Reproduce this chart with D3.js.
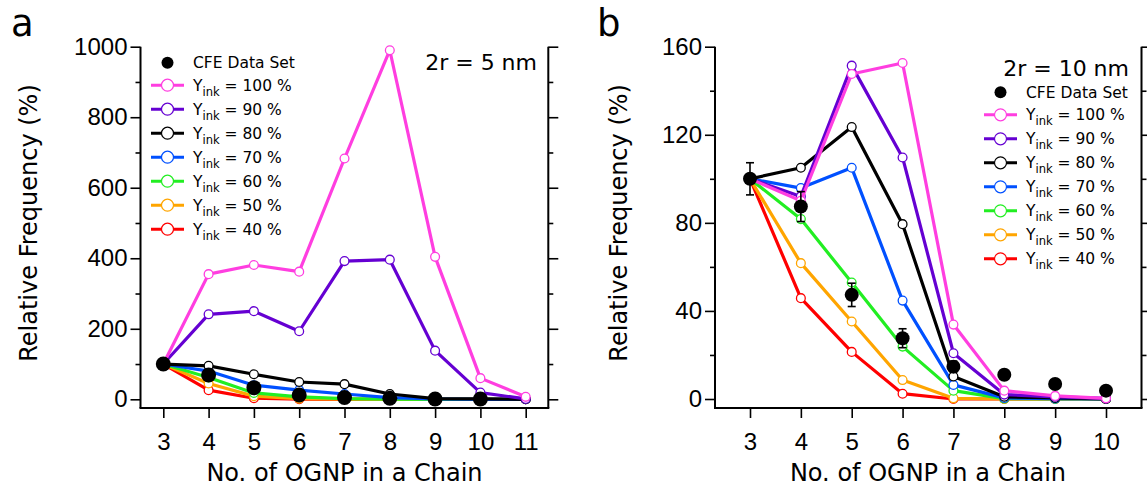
<!DOCTYPE html>
<html>
<head>
<meta charset="utf-8">
<script src="https://cdn.jsdelivr.net/npm/d3@7"></script>
<style>
  html, body { margin: 0; padding: 0; background: #fff; }
  svg { display: block; font-family: "DejaVu Sans", "Liberation Sans", sans-serif; }
</style>
</head>
<body>
<svg id="chart" width="1147" height="486"></svg>
<script>
// ---- Data ------------------------------------------------------------
// Chain length (number of OGNP per chain)
const chainA = [3, 4, 5, 6, 7, 8, 9, 10, 11];
const chainB = [3, 4, 5, 6, 7, 8, 9, 10];

// Ink yield levels and their colours
const yinkLevels = ["100", "90", "80", "70", "60", "50", "40"];
const yinkColors = ["#ff3ee0", "#6500d2", "#000000", "#0050ff", "#22ee22", "#ffa500", "#ff0000"];

// Panel a: 2r = 5 nm, simulated relative frequency (%)
const simA100 = [100, 355, 381, 362, 683, 990, 404, 60, 7];
const simA90  = [100, 241, 250, 193, 392, 396, 138, 19, 1];
const simA80  = [100, 95, 71, 49, 43, 15, 2, 1, 0];
const simA70  = [100, 80, 40, 26, 15, 5, 1, 0, 0];
const simA60  = [100, 62, 18, 7, 2, 0.5, 0, 0, 0];
const simA50  = [100, 45, 9, 2, 0.5, 0, 0, 0, 0];
const simA40  = [100, 26, 3, 0.5, 0, 0, 0, 0, 0];
const cfeA    = [100, 69, 33, 12, 5, 3, 1, 1];

// Panel b: 2r = 10 nm, simulated relative frequency (%)
const simB100 = [100, 90, 147.6, 152.6, 33.8, 3.8, 1.4, 0.3];
const simB90  = [100, 92, 151.4, 109.7, 20.8, 2, 1, 0.3];
const simB80  = [100, 105, 123.5, 79.4, 10.2, 1, 0.5, 0];
const simB70  = [100, 95.8, 105, 44.7, 6.4, 0.5, 0.2, 0];
const simB60  = [100, 81.7, 52.9, 23.8, 3.8, 0.2, 0, 0];
const simB50  = [100, 61.7, 35.2, 8.6, 0.3, 0, 0, 0];
const simB40  = [100, 45.8, 21.4, 2.4, 0, 0, 0, 0];
const cfeB    = [100, 87.4, 47.3, 27.6, 14.7, 11, 6.8, 3.8];
const cfeBErr = [7.3, 6.8, 5.3, 4.3, 2.5, 0, 0, 0];

// Axis ticks
const yTicksA = [0, 200, 400, 600, 800, 1000];
const yMinorA = [100, 300, 500, 700, 900];
const yTicksB = [0, 40, 80, 120, 160];
const yMinorB = [20, 60, 100, 140];

// ---- Drawing ---------------------------------------------------------
const svg = d3.select("#chart");

function drawPanel(cfg) {
  const g = svg.append("g");
  const x = d3.scaleLinear().domain(cfg.xDomain).range(cfg.xRange);
  const y = d3.scaleLinear().domain(cfg.yDomain).range(cfg.yRange);

  // axis frame lines (left, right, bottom)
  const frame = g.append("g").attr("stroke", "#000").attr("stroke-width", 2).attr("fill", "none");
  frame.append("line").attr("x1", cfg.left).attr("x2", cfg.left).attr("y1", cfg.yRange[1]).attr("y2", cfg.bottom);
  frame.append("line").attr("x1", cfg.right).attr("x2", cfg.right).attr("y1", cfg.yRange[1]).attr("y2", cfg.bottom);
  frame.append("line").attr("x1", cfg.left - 1).attr("x2", cfg.right + 1).attr("y1", cfg.bottom).attr("y2", cfg.bottom);

  const styleAxis = sel => {
    sel.select(".domain").remove();
    sel.selectAll(".tick line").attr("stroke", "#000").attr("stroke-width", 1.6);
    sel.selectAll("text").attr("fill", "#000").style("font-size", "24px");
  };

  // left axis with labels
  g.append("g").attr("transform", `translate(${cfg.left},0)`)
    .call(d3.axisLeft(y).tickValues(cfg.yTicks).tickSize(10).tickPadding(3).tickFormat(d3.format("d")))
    .call(styleAxis);
  g.append("g").attr("transform", `translate(${cfg.left},0)`)
    .call(d3.axisLeft(y).tickValues(cfg.yMinor).tickSize(5).tickFormat(""))
    .call(styleAxis);
  // right axis, ticks only
  g.append("g").attr("transform", `translate(${cfg.right},0)`)
    .call(d3.axisRight(y).tickValues(cfg.yTicks).tickSize(10).tickFormat(""))
    .call(styleAxis);
  g.append("g").attr("transform", `translate(${cfg.right},0)`)
    .call(d3.axisRight(y).tickValues(cfg.yMinor).tickSize(5).tickFormat(""))
    .call(styleAxis);
  // bottom axis
  g.append("g").attr("transform", `translate(0,${cfg.bottom})`)
    .call(d3.axisBottom(x).tickValues(cfg.chain).tickSize(10).tickPadding(15).tickFormat(d3.format("d")))
    .call(styleAxis);

  // axis titles
  g.append("text")
    .attr("x", (cfg.xRange[0] + cfg.xRange[1]) / 2).attr("y", 481)
    .attr("text-anchor", "middle").style("font-size", "24px")
    .text("No. of OGNP in a Chain");
  g.append("text")
    .attr("transform", `translate(${cfg.yTitleX},${(cfg.yRange[0] + cfg.yRange[1]) / 2}) rotate(-90)`)
    .attr("text-anchor", "middle").style("font-size", "24px")
    .text("Relative Frequency (%)");
  // panel letter
  g.append("text").attr("x", cfg.letterX).attr("y", 36).style("font-size", "37px").text(cfg.letter);
  // size annotation
  g.append("text").attr("x", cfg.sizeX).attr("y", cfg.sizeY).attr("text-anchor", "end")
    .style("font-size", "22px").text(cfg.sizeLabel);

  // simulated series, lowest yield first
  const line = d3.line().x((d, i) => x(cfg.chain[i])).y(d => y(d));
  for (let k = cfg.series.length - 1; k >= 0; k--) {
    const vals = cfg.series[k];
    const col = yinkColors[k];
    g.append("path").datum(vals)
      .attr("d", line).attr("fill", "none").attr("stroke", col)
      .attr("stroke-width", 3.2).attr("stroke-linejoin", "round");
    g.append("g").selectAll("circle").data(vals).join("circle")
      .attr("cx", (d, i) => x(cfg.chain[i])).attr("cy", d => y(d)).attr("r", 4.4)
      .attr("fill", "#fff").attr("stroke", col).attr("stroke-width", 1.3);
  }

  // experimental data: error bars then filled markers
  if (cfg.cfeErr) {
    const eb = g.append("g").attr("stroke", "#000").attr("stroke-width", 1.6);
    cfg.cfe.forEach((v, i) => {
      const e = cfg.cfeErr[i];
      if (!e) return;
      const cx = x(cfg.chain[i]);
      eb.append("line").attr("x1", cx).attr("x2", cx).attr("y1", y(v - e)).attr("y2", y(v + e));
      eb.append("line").attr("x1", cx - 4).attr("x2", cx + 4).attr("y1", y(v - e)).attr("y2", y(v - e));
      eb.append("line").attr("x1", cx - 4).attr("x2", cx + 4).attr("y1", y(v + e)).attr("y2", y(v + e));
    });
  }
  g.append("g").selectAll("circle").data(cfg.cfe).join("circle")
    .attr("cx", (d, i) => x(cfg.chain[i])).attr("cy", d => y(d)).attr("r", cfg.dotR).attr("fill", "#000");

  // legend
  const lg = g.append("g");
  const rowH = 24;
  lg.append("circle").attr("cx", cfg.legX + 16.5).attr("cy", cfg.legY).attr("r", 6).attr("fill", "#000");
  lg.append("text").attr("x", cfg.legX + 42).attr("y", cfg.legY + 5.5).style("font-size", "15.5px").text("CFE Data Set");
  yinkLevels.forEach((lvl, k) => {
    const cy = cfg.legY + 22.5 + k * rowH;
    lg.append("line").attr("x1", cfg.legX).attr("x2", cfg.legX + 33).attr("y1", cy).attr("y2", cy)
      .attr("stroke", yinkColors[k]).attr("stroke-width", 3);
    lg.append("circle").attr("cx", cfg.legX + 16.5).attr("cy", cy).attr("r", 6)
      .attr("fill", "#fff").attr("stroke", yinkColors[k]).attr("stroke-width", 1.2);
    const t = lg.append("text").attr("x", cfg.legX + 42).attr("y", cy + 5.5).style("font-size", "15.5px");
    t.append("tspan").text("Y");
    t.append("tspan").attr("dy", 5).style("font-size", "11.5px").text("ink");
    t.append("tspan").attr("dy", -5).text(` = ${lvl} %`);
  });
}

drawPanel({
  chain: chainA, xDomain: [3, 11], xRange: [163.3, 525.7],
  yDomain: [0, 1000], yRange: [399.3, 46.7],
  left: 140.5, right: 548.3, bottom: 408,
  yTicks: yTicksA, yMinor: yMinorA,
  series: [simA100, simA90, simA80, simA70, simA60, simA50, simA40],
  cfe: cfeA, cfeErr: null, dotR: 7.5,
  yTitleX: 37, letter: "a", letterX: 11,
  sizeLabel: "2r = 5 nm", sizeX: 537, sizeY: 69.5,
  legX: 151, legY: 62.7
});

drawPanel({
  chain: chainB, xDomain: [3, 10], xRange: [750, 1106],
  yDomain: [0, 160], yRange: [399, 46.7],
  left: 715, right: 1141.5, bottom: 408,
  yTicks: yTicksB, yMinor: yMinorB,
  series: [simB100, simB90, simB80, simB70, simB60, simB50, simB40],
  cfe: cfeB, cfeErr: cfeBErr, dotR: 7,
  yTitleX: 627, letter: "b", letterX: 597,
  sizeLabel: "2r = 10 nm", sizeX: 1129, sizeY: 76,
  legX: 984, legY: 92.3
});
</script>
</body>
</html>
